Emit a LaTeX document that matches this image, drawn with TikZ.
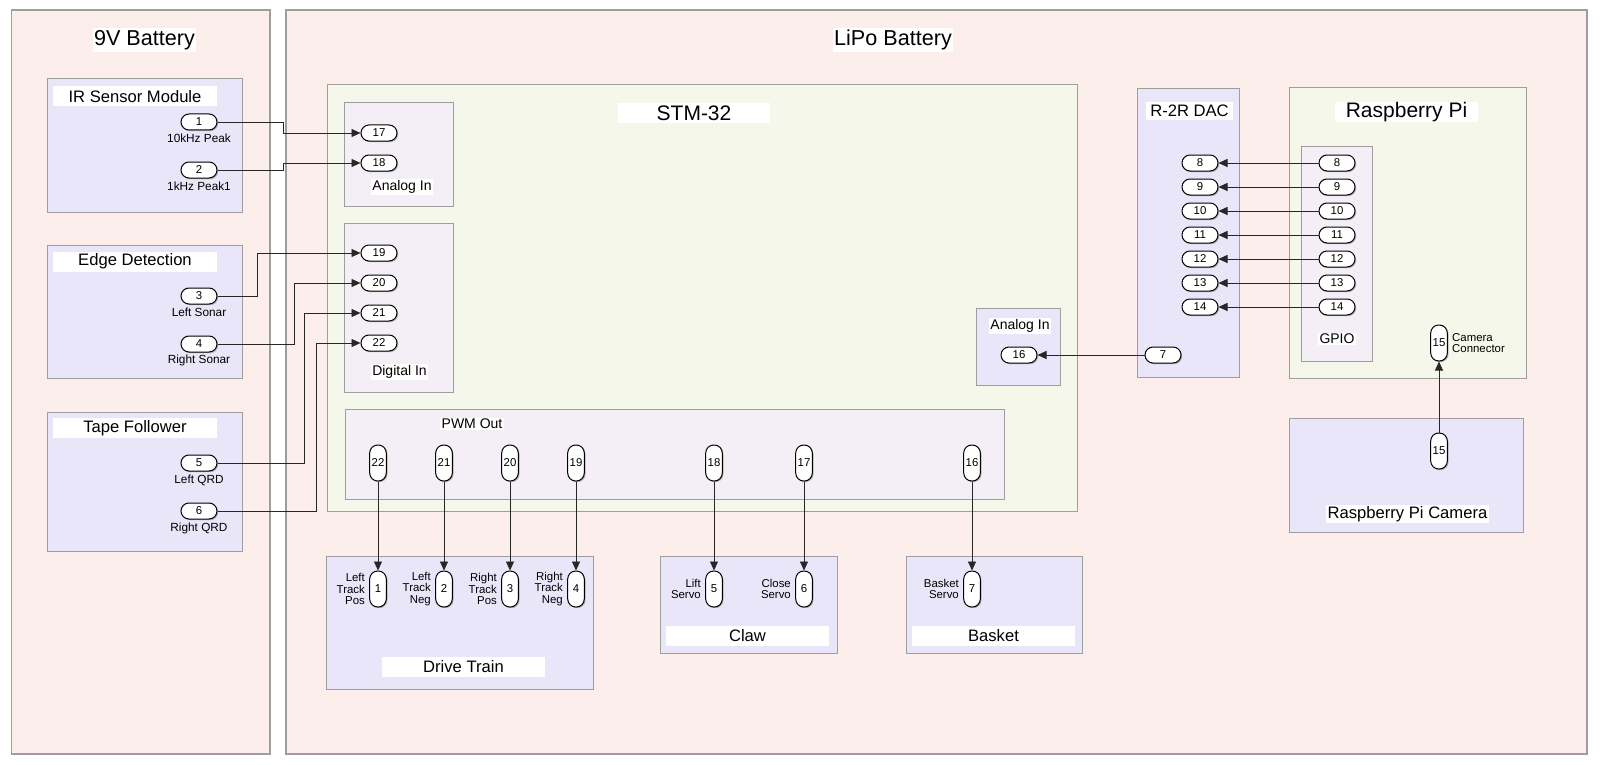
\documentclass[tikz,border=0pt]{standalone}
\usepackage{fontspec}
\setmainfont{Liberation Sans}
\usepackage{tikz}
\usetikzlibrary{arrows.meta,shadows}

\definecolor{battfill}{RGB}{252,238,234}
\definecolor{boardfill}{RGB}{245,247,235}
\definecolor{portfill}{RGB}{244,238,246}
\definecolor{modfill}{RGB}{233,230,250}
\definecolor{edgegray}{RGB}{158,158,158}

\begin{document}
\begin{tikzpicture}[x=0.5pt,y=-0.5pt]
\tikzstyle{every node}+=[inner sep=0pt]
\tikzstyle{batt}=[draw=edgegray,fill=battfill,line width=0.6pt]
\tikzstyle{board}=[draw=edgegray,fill=boardfill,line width=0.5pt]
\tikzstyle{group}=[draw=edgegray,fill=portfill,line width=0.5pt]
\tikzstyle{module}=[draw=edgegray,fill=modfill,line width=0.5pt]
\tikzstyle{strip}=[fill=white,minimum height=10pt,font=\fontsize{8.3}{9}\selectfont]
\tikzstyle{bigstrip}=[fill=white,minimum height=10pt,font=\fontsize{10.5}{12}\selectfont]
\tikzstyle{grouplabel}=[fill=white,inner sep=0.6pt,font=\fontsize{7}{8}\selectfont]
\tikzstyle{pill}=[draw=black,fill=white,line width=0.5pt,rounded corners=4pt,minimum width=18pt,minimum height=8pt,font=\fontsize{5.7}{6}\selectfont,drop shadow={shadow xshift=0.6pt,shadow yshift=-0.6pt,fill=black!50,opacity=0.55}]
\tikzstyle{vpill}=[pill,minimum width=8.3pt,minimum height=18pt]
\tikzstyle{tag}=[font=\fontsize{5.9}{6.5}\selectfont]
\tikzstyle{mtag}=[font=\fontsize{5.7}{5.9}\selectfont]
\tikzstyle{wire}=[draw=black!85,line width=0.4pt,-{Triangle[length=4.5pt,width=4pt]}]
\useasboundingbox (0,0) rectangle (1600,765);

% power domains
\draw [batt] (11.5,10) rectangle (270,754);
\draw (144.5,40) node [fill=white,minimum width=51.5pt,minimum height=12pt,font=\fontsize{10.8}{12}\selectfont] (t9v) {9V Battery};
\draw [batt] (286,10) rectangle (1587,754);
\draw (893,40) node [fill=white,minimum width=60pt,minimum height=12pt,font=\fontsize{10.8}{12}\selectfont] (tlipo) {LiPo Battery};

% sensor modules
\draw [module] (47,79) rectangle (242,212);
\draw (135,96.5) node [strip,minimum width=82pt] (tir) {IR Sensor Module};
\draw (199,122) node [pill] (p1) {1};
\draw (199,138) node [tag] (p1l) {10kHz Peak};
\draw (199,170) node [pill] (p2) {2};
\draw (199,186.5) node [tag] (p2l) {1kHz Peak1};

\draw [module] (47,245) rectangle (242,378);
\draw (135,261.5) node [strip,minimum width=82pt] (tedge) {Edge Detection};
\draw (199,296) node [pill] (p3) {3};
\draw (199,312) node [tag] (p3l) {Left Sonar};
\draw (199,344) node [pill] (p4) {4};
\draw (199,360) node [tag] (p4l) {Right Sonar};

\draw [module] (47,412) rectangle (242,551);
\draw (135,428) node [strip,minimum width=82pt] (ttape) {Tape Follower};
\draw (199,463) node [pill] (p5) {5};
\draw (199,480) node [tag] (p5l) {Left QRD};
\draw (199,511) node [pill] (p6) {6};
\draw (199,528) node [tag] (p6l) {Right QRD};

% microcontroller
\draw [board] (327,85) rectangle (1077,511);
\draw (694,113) node [bigstrip,minimum width=76pt] (tstm) {STM-32};

\draw [group] (344,103) rectangle (453,206);
\draw (379,133) node [pill] (a17) {17};
\draw (379,163) node [pill] (a18) {18};
\draw (402,187) node [grouplabel] (tain) {Analog In};

\draw [group] (344,223) rectangle (453,392);
\draw (379,253) node [pill] (d19) {19};
\draw (379,283) node [pill] (d20) {20};
\draw (379,313) node [pill] (d21) {21};
\draw (379,343) node [pill] (d22) {22};
\draw (399.5,372) node [grouplabel] (tdin) {Digital In};

\draw [group] (345,409) rectangle (1004,499);
\draw (472,424) node [grouplabel] (tpwm) {PWM Out};
\draw (378,463) node [vpill] (w22) {22};
\draw (444,463) node [vpill] (w21) {21};
\draw (510,463) node [vpill] (w20) {20};
\draw (576,463) node [vpill] (w19) {19};
\draw (714,463) node [vpill] (w18) {18};
\draw (804,463) node [vpill] (w17) {17};
\draw (972,463) node [vpill] (w16) {16};

\draw [module] (976,308) rectangle (1060,385);
\draw (1020,326) node [grouplabel] (tain2) {Analog In};
\draw (1019,355) node [pill] (a16) {16};

% actuators
\draw [module] (326,556) rectangle (593,689);
\draw (463.5,667) node [strip,minimum width=81.5pt] (tdrive) {Drive Train};
\draw (378,589) node [vpill] (m1) {1};
\draw (444,589) node [vpill] (m2) {2};
\draw (510,589) node [vpill] (m3) {3};
\draw (576,589) node [vpill] (m4) {4};
\draw ([xshift=-2pt]m1.west) node [mtag,anchor=east,align=right] (m1l) {Left\\Track\\Pos};
\draw ([xshift=-2pt]m2.west) node [mtag,anchor=east,align=right] (m2l) {Left\\Track\\Neg};
\draw ([xshift=-2pt]m3.west) node [mtag,anchor=east,align=right] (m3l) {Right\\Track\\Pos};
\draw ([xshift=-2pt]m4.west) node [mtag,anchor=east,align=right] (m4l) {Right\\Track\\Neg};

\draw [module] (660,556) rectangle (837,653);
\draw (747.5,636) node [strip,minimum width=81.5pt] (tclaw) {Claw};
\draw (714,589) node [vpill] (m5) {5};
\draw (804,589) node [vpill] (m6) {6};
\draw ([xshift=-2pt]m5.west) node [mtag,anchor=east,align=right] (m5l) {Lift\\Servo};
\draw ([xshift=-2pt]m6.west) node [mtag,anchor=east,align=right] (m6l) {Close\\Servo};

\draw [module] (906,556) rectangle (1082,653);
\draw (993.5,636) node [strip,minimum width=81.5pt] (tbasket) {Basket};
\draw (972,589) node [vpill] (m7) {7};
\draw ([xshift=-2pt]m7.west) node [mtag,anchor=east,align=right] (m7l) {Basket\\Servo};

% DAC
\draw [module] (1137,89) rectangle (1239,377);
\draw (1189.5,111) node [strip,minimum width=43.5pt,minimum height=9pt] (tdac) {R-2R DAC};
\draw (1200,163) node [pill] (r8) {8};
\draw (1200,187) node [pill] (r9) {9};
\draw (1200,211) node [pill] (r10) {10};
\draw (1200,235) node [pill] (r11) {11};
\draw (1200,259) node [pill] (r12) {12};
\draw (1200,283) node [pill] (r13) {13};
\draw (1200,307) node [pill] (r14) {14};
\draw (1163,355) node [pill] (r7) {7};

% Raspberry Pi
\draw [board] (1289,88) rectangle (1526,378);
\draw (1406.5,112) node [bigstrip,minimum width=71.5pt] (tpi) {Raspberry Pi};
\draw [group] (1301,146) rectangle (1372,361);
\draw (1337,163) node [pill] (g8) {8};
\draw (1337,187) node [pill] (g9) {9};
\draw (1337,211) node [pill] (g10) {10};
\draw (1337,235) node [pill] (g11) {11};
\draw (1337,259) node [pill] (g12) {12};
\draw (1337,283) node [pill] (g13) {13};
\draw (1337,307) node [pill] (g14) {14};
\draw (1337,339) node [grouplabel] (tgpio) {GPIO};
\draw (1439,343) node [vpill] (c15) {15};
\draw ([xshift=2pt]c15.east) node [mtag,anchor=west,align=left] (c15l) {Camera\\Connector};

\draw [module] (1289,418) rectangle (1523,532);
\draw (1407.5,514) node [strip,minimum width=81.5pt,minimum height=9pt] (tcam) {Raspberry Pi Camera};
\draw (1439,451) node [vpill] (pc15) {15};

% sensor wiring
\draw [wire] (p1.east) -- ++(66,0) |- (a17.west);
\draw [wire] (p2.east) -- ++(66,0) |- (a18.west);
\draw [wire] (p3.east) -- ++(40,0) |- (d19.west);
\draw [wire] (p4.east) -- ++(77,0) |- (d20.west);
\draw [wire] (p5.east) -- ++(87,0) |- (d21.west);
\draw [wire] (p6.east) -- ++(99,0) |- (d22.west);

% PWM wiring
\draw [wire] (w22) -- (m1);
\draw [wire] (w21) -- (m2);
\draw [wire] (w20) -- (m3);
\draw [wire] (w19) -- (m4);
\draw [wire] (w18) -- (m5);
\draw [wire] (w17) -- (m6);
\draw [wire] (w16) -- (m7);

% GPIO to DAC
\draw [wire] (g8) -- (r8);
\draw [wire] (g9) -- (r9);
\draw [wire] (g10) -- (r10);
\draw [wire] (g11) -- (r11);
\draw [wire] (g12) -- (r12);
\draw [wire] (g13) -- (r13);
\draw [wire] (g14) -- (r14);
\draw [wire] (r7) -- (a16);
\draw [wire] (pc15) -- (c15);
\end{tikzpicture}
\end{document}
